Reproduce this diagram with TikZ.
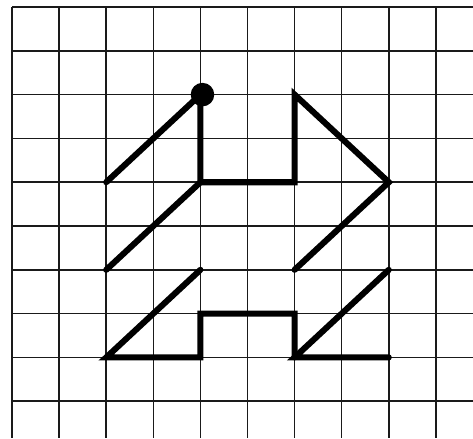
\documentclass[tikz,border=0pt]{standalone}
\usepackage{xcolor}
\definecolor{ink}{HTML}{000000}
\definecolor{gridline}{HTML}{1A1A1A}
\tikzset{
  gridrule/.style={gridline, line width=1.1pt},
  stroke/.style={ink, line width=4.4pt, line cap=round, line join=miter},
}

\begin{document}
\begin{tikzpicture}[x=1.2cm, y=-1.116cm]
  \fill[white] (-0.255,-0.16) rectangle (9.788,9.84);
  \useasboundingbox (-0.255,-0.16) rectangle (9.788,9.84);

  \foreach \i in {0,...,9}
    \draw[gridrule] (\i,0) -- (\i,9.84);
  \foreach \j in {0,...,9}
    \draw[gridrule] (0,\j) -- (9.788,\j);

  \coordinate (start) at (4,2);
  \coordinate (neckL) at (4,4);
  \coordinate (neckR) at (6,4);
  \coordinate (earR) at (6,2);
  \coordinate (tipR) at (8,4);
  \coordinate (midR) at (6,6);
  \coordinate (lowR) at (8,6);
  \coordinate (footR) at (6,8);
  \coordinate (baseR) at (8,8);
  \coordinate (stepR) at (6,7);
  \coordinate (stepL) at (4,7);
  \coordinate (footL) at (4,8);
  \coordinate (baseL) at (2,8);
  \coordinate (midL) at (4,6);
  \coordinate (lowL) at (2,6);
  \coordinate (topL) at (2,4);

  \draw[stroke] (topL) -- (start);
  \draw[stroke] (start) -- (neckL) -- (neckR) -- (earR) -- (tipR) -- (midR);
  \draw[stroke] (lowL) -- (neckL);
  \draw[stroke] (lowR) -- (footR) -- (baseR);
  \draw[stroke] (midL) -- (baseL) -- (footL) -- (stepL) -- (stepR) -- (footR);

  \fill[ink] ([xshift=1.5pt]start) circle (0.3cm);
\end{tikzpicture}
\end{document}
